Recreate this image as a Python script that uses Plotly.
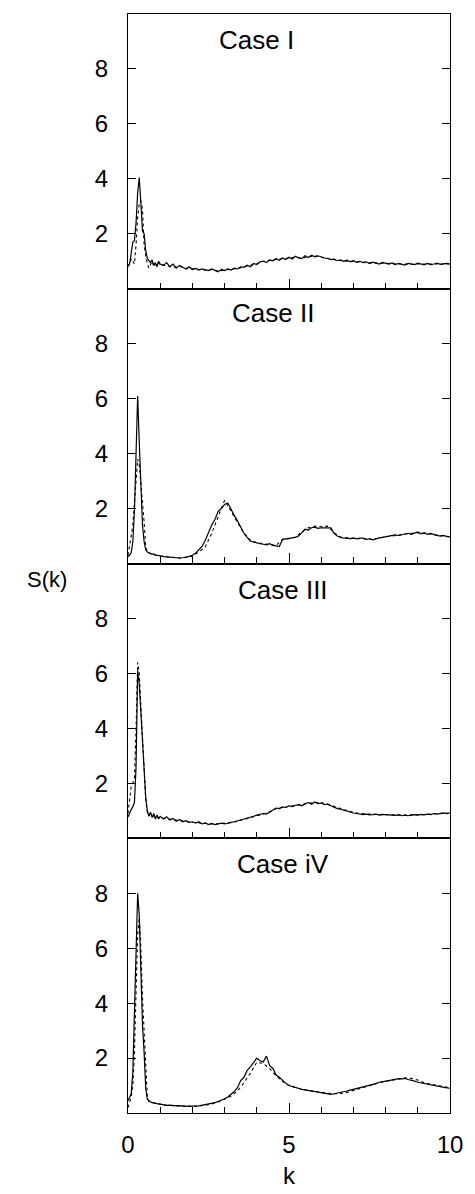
import plotly.graph_objects as go
from plotly.subplots import make_subplots

# k grids
k_solid = [round(i * 0.05, 2) for i in range(21)] + [round(1.0 + i * 0.1, 1) for i in range(1, 91)]
k_dot = [round(i * 0.05, 2) for i in range(21)] + [round(1.0 + i * 0.2, 1) for i in range(1, 46)]

case_labels = ["Case I", "Case II", "Case III", "Case iV"]

s1_solid = [0.85, 0.9, 1.3, 1.7, 1.75, 2.4, 3.5, 4.05, 3.1, 2.1, 2.0, 1.4, 1.1, 1.0, 0.95, 1.05, 0.85, 0.95, 0.8, 1.0, 0.9,
            0.85, 0.95, 0.8, 0.9, 0.75, 0.85, 0.78, 0.72, 0.8, 0.7,
            0.74, 0.68, 0.72, 0.7, 0.66, 0.72, 0.68, 0.62, 0.7, 0.66,
            0.72, 0.68, 0.75, 0.72, 0.8, 0.78, 0.86, 0.8, 0.92, 0.88,
            0.98, 1.0, 0.95, 1.05, 1.02, 1.1, 1.04, 1.12, 1.06, 1.15,
            1.08, 1.18, 1.12, 1.1, 1.2, 1.14, 1.22, 1.16, 1.2, 1.15,
            1.12, 1.1, 1.06, 1.08, 1.02, 1.05, 1.0, 1.04, 0.98, 1.02,
            0.96, 1.0, 0.95, 0.98, 0.92, 0.97, 0.94, 0.9, 0.96, 0.92,
            0.9, 0.94, 0.88, 0.92, 0.9, 0.86, 0.92, 0.9, 0.88, 0.93,
            0.9, 0.87, 0.92, 0.88, 0.9, 0.93, 0.89, 0.9, 0.92, 0.9]
s1_dot = [0.8, 0.9, 1.1, 1.0, 0.9, 1.6, 2.6, 3.1, 3.2, 2.9, 1.6, 1.2, 0.9, 0.75, 0.85, 1.0, 0.8, 0.9, 0.85, 0.95, 0.85,
          0.85, 0.78, 0.82, 0.74, 0.72, 0.7, 0.68, 0.7, 0.64, 0.68,
          0.7, 0.74, 0.8, 0.84, 0.9, 1.0, 1.04, 1.08, 1.1, 1.12,
          1.15, 1.12, 1.16, 1.2, 1.15, 1.1, 1.06, 1.03, 1.0, 1.0,
          0.97, 0.95, 0.94, 0.93, 0.92, 0.91, 0.9, 0.9, 0.89, 0.9,
          0.9, 0.9, 0.91, 0.9, 0.9]

s2_solid = [0.25, 0.3, 0.4, 0.8, 1.9, 3.8, 6.1, 4.4, 2.6, 1.4, 0.8, 0.5, 0.42, 0.38, 0.36, 0.33, 0.35, 0.3, 0.3, 0.28, 0.28,
            0.25, 0.24, 0.22, 0.21, 0.2, 0.2, 0.21, 0.23, 0.26, 0.3,
            0.38, 0.5, 0.62, 0.85, 1.15, 1.4, 1.6, 1.9, 2.0, 2.15,
            2.2, 1.95, 1.75, 1.55, 1.3, 1.1, 0.95, 0.82, 0.78, 0.74,
            0.72, 0.7, 0.68, 0.72, 0.66, 0.64, 0.62, 0.88, 0.9, 0.9,
            0.92, 0.95, 1.0, 1.12, 1.25, 1.22, 1.3, 1.32, 1.28, 1.3,
            1.3, 1.28, 1.3, 1.1, 1.0, 0.95, 0.92, 0.94, 0.9, 0.93,
            0.9, 0.92, 0.92, 0.88, 0.9, 0.86, 0.9, 0.93, 0.95, 0.97,
            0.98, 1.0, 1.04, 1.02, 1.05, 1.08, 1.1, 1.06, 1.12, 1.15,
            1.08, 1.12, 1.06, 1.1, 1.05, 1.03, 1.0, 1.02, 0.98, 0.97]
s2_dot = [0.3, 0.6, 1.0, 1.4, 2.2, 3.0, 3.8, 3.6, 3.0, 2.2, 1.5, 0.6, 0.42, 0.38, 0.35, 0.33, 0.32, 0.3, 0.29, 0.28, 0.27,
          0.24, 0.21, 0.2, 0.22, 0.26, 0.42, 0.6, 1.1, 1.7, 2.3,
          1.9, 1.5, 1.1, 0.85, 0.76, 0.72, 0.68, 0.66, 0.88, 0.9,
          0.96, 1.15, 1.3, 1.36, 1.34, 1.36, 1.12, 0.96, 0.92, 0.92,
          0.9, 0.9, 0.88, 0.93, 0.97, 1.0, 1.04, 1.08, 1.1, 1.12,
          1.1, 1.08, 1.04, 1.0, 0.98]

s3_solid = [0.77, 0.95, 1.05, 1.15, 1.3, 2.6, 6.1, 5.6, 4.6, 3.6, 2.6, 1.5, 1.0, 0.8, 0.95, 0.75, 0.9, 0.7, 0.85, 0.72, 0.8,
            0.7, 0.78, 0.66, 0.72, 0.62, 0.68, 0.6, 0.64, 0.58, 0.6,
            0.55, 0.6, 0.52, 0.56, 0.5, 0.54, 0.5, 0.52, 0.55, 0.52,
            0.56, 0.58, 0.6, 0.63, 0.66, 0.7, 0.74, 0.76, 0.8, 0.84,
            0.86, 0.9, 0.88, 0.95, 1.02, 1.1, 1.08, 1.14, 1.12, 1.18,
            1.15, 1.2, 1.22, 1.18, 1.26, 1.3, 1.24, 1.32, 1.26, 1.28,
            1.22, 1.25, 1.18, 1.12, 1.08, 1.06, 1.02, 0.98, 0.96, 0.92,
            0.9, 0.88, 0.86, 0.88, 0.85, 0.86, 0.88, 0.84, 0.87, 0.86,
            0.85, 0.86, 0.83, 0.85, 0.82, 0.84, 0.82, 0.85, 0.86, 0.84,
            0.87, 0.85, 0.88, 0.86, 0.9, 0.88, 0.9, 0.92, 0.9, 0.92]
s3_dot = [0.9, 1.4, 1.9, 2.0, 2.2, 4.0, 6.4, 6.0, 4.8, 3.6, 2.4, 1.4, 0.95, 0.85, 0.9, 0.78, 0.82, 0.74, 0.78, 0.72, 0.74,
          0.72, 0.68, 0.64, 0.6, 0.58, 0.56, 0.54, 0.52, 0.53, 0.54,
          0.57, 0.62, 0.68, 0.74, 0.8, 0.88, 0.96, 1.08, 1.12, 1.16,
          1.2, 1.22, 1.28, 1.3, 1.3, 1.24, 1.16, 1.08, 1.0, 0.94,
          0.9, 0.88, 0.87, 0.86, 0.86, 0.85, 0.84, 0.84, 0.84, 0.85,
          0.86, 0.87, 0.88, 0.9, 0.92]

s4_solid = [0.45, 0.55, 0.7, 1.5, 3.6, 6.6, 8.0, 7.2, 5.0, 3.2, 2.2, 0.9, 0.5, 0.44, 0.4, 0.38, 0.36, 0.35, 0.34, 0.33, 0.32,
            0.3, 0.28, 0.29, 0.27, 0.26, 0.27, 0.25, 0.24, 0.25, 0.24,
            0.25, 0.26, 0.28, 0.3, 0.32, 0.35, 0.38, 0.42, 0.46, 0.52,
            0.58, 0.68, 0.78, 0.92, 1.18, 1.3, 1.55, 1.68, 1.85, 2.0,
            1.9, 1.86, 2.07, 1.72, 1.62, 1.38, 1.3, 1.18, 1.08, 1.0,
            0.96, 0.92, 0.89, 0.86, 0.84, 0.82, 0.8, 0.77, 0.76, 0.74,
            0.72, 0.7, 0.68, 0.7, 0.72, 0.74, 0.76, 0.8, 0.83, 0.86,
            0.88, 0.92, 0.95, 0.98, 1.0, 1.05, 1.07, 1.12, 1.13, 1.16,
            1.18, 1.2, 1.22, 1.25, 1.24, 1.26, 1.22, 1.2, 1.16, 1.12,
            1.1, 1.07, 1.05, 1.02, 1.0, 0.98, 0.96, 0.93, 0.92, 0.9]
s4_dot = [0.2, 0.4, 0.6, 1.0, 2.2, 4.4, 6.5, 7.1, 6.0, 4.2, 3.0, 1.6, 0.6, 0.42, 0.4, 0.38, 0.36, 0.35, 0.34, 0.33, 0.32,
          0.28, 0.27, 0.26, 0.25, 0.24, 0.26, 0.28, 0.33, 0.4, 0.5,
          0.62, 0.8, 1.1, 1.45, 1.85, 1.8, 1.62, 1.35, 1.15, 1.0,
          0.92, 0.86, 0.82, 0.78, 0.75, 0.72, 0.7, 0.71, 0.75, 0.82,
          0.9, 0.96, 1.02, 1.1, 1.15, 1.2, 1.24, 1.28, 1.26, 1.2,
          1.1, 1.04, 1.0, 0.96, 0.92]

solids = [s1_solid, s2_solid, s3_solid, s4_solid]
dots = [s1_dot, s2_dot, s3_dot, s4_dot]
label_pos = [(0.40, 9.05), (0.45, 9.1), (0.48, 9.05), (0.48, 9.05)]

FONT = "Liberation Sans, Arial, Helvetica, sans-serif"

fig = make_subplots(rows=4, cols=1, vertical_spacing=0)

for i in range(4):
    r = i + 1
    fig.add_trace(go.Scatter(x=k_dot, y=dots[i], mode="lines",
                             line=dict(color="black", width=1.1, dash="dot"),
                             showlegend=False), row=r, col=1)
    fig.add_trace(go.Scatter(x=k_solid, y=solids[i], mode="lines",
                             line=dict(color="black", width=1.2),
                             showlegend=False), row=r, col=1)
    fig.update_xaxes(range=[0, 10], tickvals=[0, 5, 10], ticks="inside", ticklen=10,
                     tickcolor="black", tickwidth=1.2,
                     minor=dict(dtick=1, ticks="inside", ticklen=6, tickcolor="black", tickwidth=1),
                     showline=True, linecolor="black", linewidth=1.2, mirror=True,
                     showgrid=False, zeroline=False,
                     showticklabels=(r == 4), ticklabelstandoff=10,
                     tickfont=dict(family=FONT, size=24, color="black"),
                     row=r, col=1)
    fig.update_yaxes(range=[0, 10], tickvals=[2, 4, 6, 8], ticks="inside", ticklen=8,
                     tickcolor="black", tickwidth=1.2,
                     showline=True, linecolor="black", linewidth=1.2, mirror="ticks",
                     showgrid=False, zeroline=False, ticklabelstandoff=14,
                     tickfont=dict(family=FONT, size=24, color="black"),
                     row=r, col=1)
    xr = "x" if r == 1 else f"x{r}"
    yr = "y" if r == 1 else f"y{r}"
    fig.add_annotation(text=case_labels[i], xref=f"{xr} domain", yref=yr,
                       x=label_pos[i][0], y=label_pos[i][1], showarrow=False,
                       xanchor="center", yanchor="middle",
                       font=dict(family=FONT, size=26, color="black"))

fig.add_annotation(text="S(k)", xref="paper", yref="paper", x=-0.253, y=0.485,
                   showarrow=False, xanchor="center", yanchor="middle",
                   font=dict(family=FONT, size=22, color="black"))
fig.add_annotation(text="k", xref="paper", yref="paper", x=0.5, y=-0.057,
                   showarrow=False, xanchor="center", yanchor="middle",
                   font=dict(family=FONT, size=24, color="black"))

fig.update_layout(width=475, height=1194,
                  margin=dict(l=128, r=20, t=14, b=81),
                  paper_bgcolor="white", plot_bgcolor="white",
                  showlegend=False)

fig.write_html("out.html", config={"displayModeBar": False},
               post_script="document.body.style.margin='0px';")
